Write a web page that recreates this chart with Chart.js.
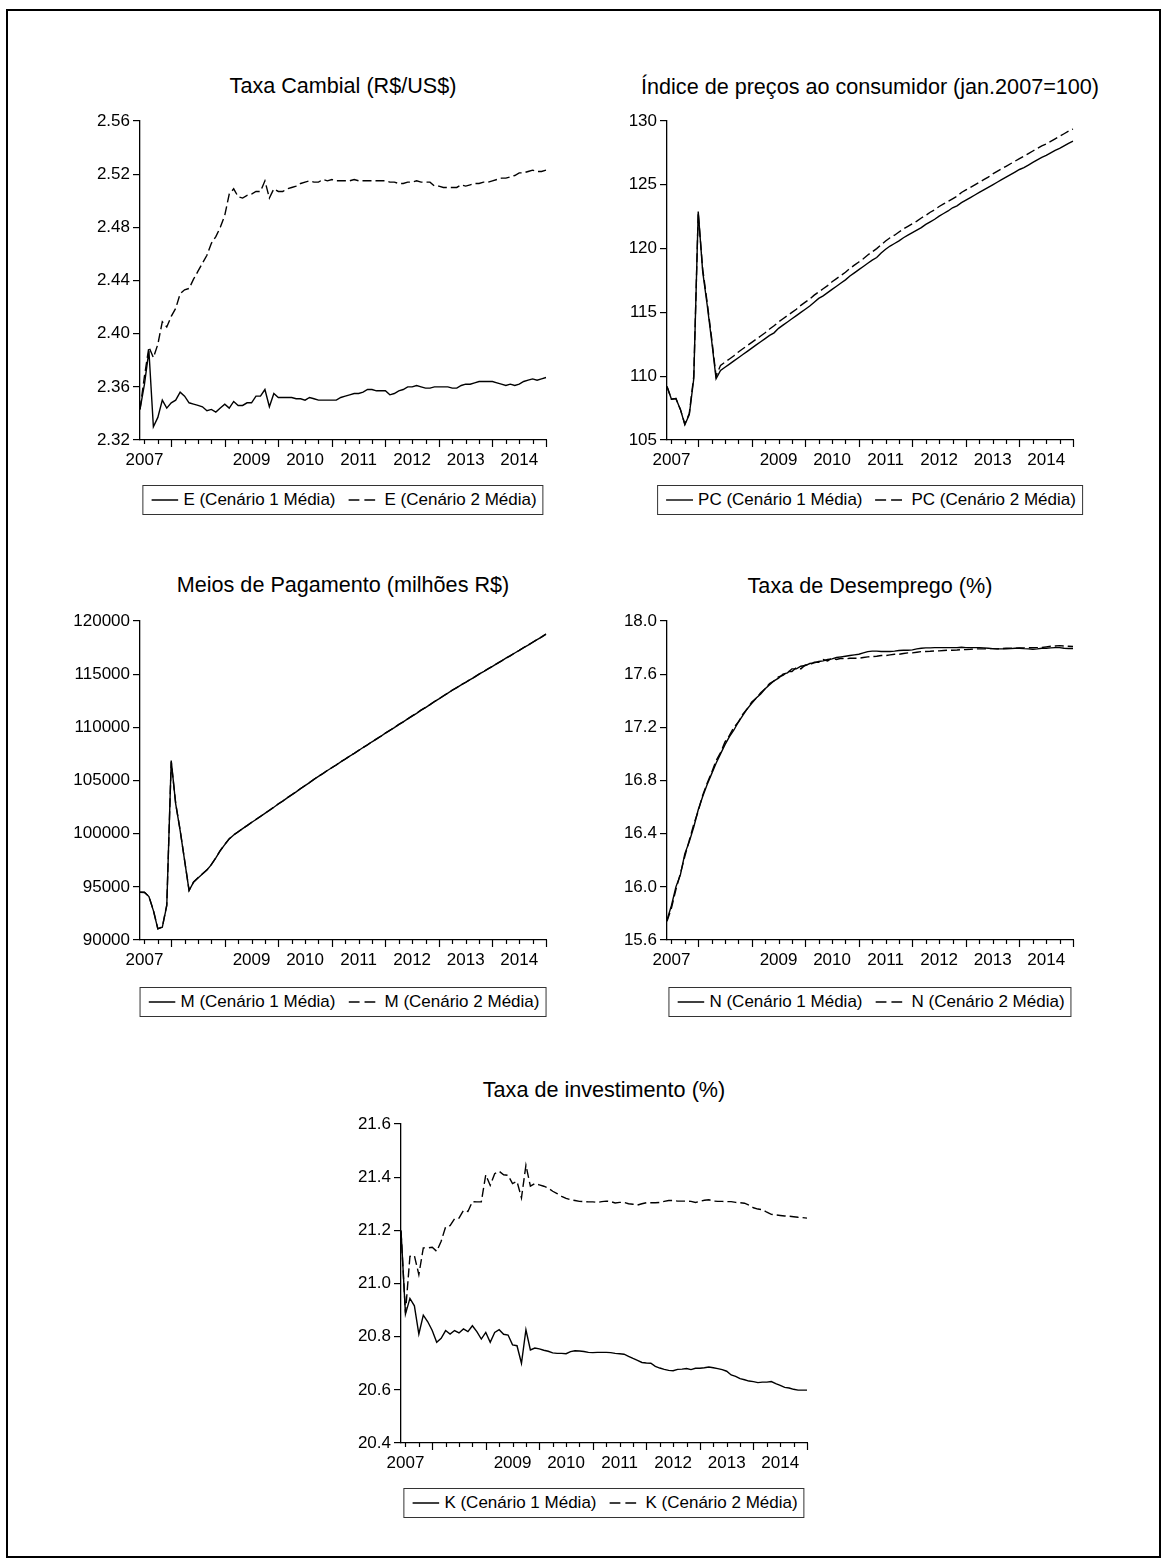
<!DOCTYPE html>
<html lang="pt">
<head>
<meta charset="utf-8">
<title>Cenários - médias</title>
<script src="https://cdn.jsdelivr.net/npm/chart.js@4.4.1/dist/chart.umd.min.js"></script>
<style>
  html, body { margin: 0; padding: 0; background: #fff; }
  #page { position: relative; width: 1170px; height: 1564px; overflow: hidden;
          font-family: "Liberation Sans", Arial, sans-serif; color: #000; }
  #frame { position: absolute; left: 6px; top: 9px; width: 1155px; height: 1549px;
           border: 2px solid #000; box-sizing: border-box; }
  .ttl { position: absolute; font-size: 21.6px; line-height: 1; white-space: nowrap;
         transform: translate(-50%, -50%); }
  canvas { position: absolute; }
  .leg { position: absolute; transform: translateX(-50%); height: 30px; box-sizing: border-box;
         border: 1px solid #333; display: flex; align-items: center; padding: 0 6px 0 8px;
         font-size: 17px; white-space: nowrap; background: #fff; }
  .leg svg { display: block; }
  .leg .it { display: flex; align-items: center; }
  .leg .it + .it { margin-left: 13px; }
</style>
</head>
<body>
<div id="page"><div id="frame"></div></div>
<script>
// eixo mensal: 2007M06 ... 2015M01 (92 observações)
const months = [];
for (let k = 0; k < 92; k++) {
  const m = 5 + k;
  months.push((2007 + Math.floor(m / 12)) + "M" + String((m % 12) + 1).padStart(2, "0"));
}

// rótulos de ano e marcas do eixo x (índices de mês)
const yearLabelIdx = [1, 25, 37, 49, 61, 73, 85];
const yearLabelText = ["2007", "2009", "2010", "2011", "2012", "2013", "2014"];
const quarterIdx = [1, 4, 7, 10, 13, 16, 19, 22, 25, 28, 31, 34, 37, 40, 43, 46, 49, 52, 55, 58, 61, 64, 67, 70, 73, 76, 79, 82, 85, 88, 91];
const janIdx = [7, 19, 31, 43, 55, 67, 79, 91];

// taxa de câmbio
const e1 = [2.343, 2.362, 2.387, 2.330, 2.337, 2.350, 2.344, 2.348, 2.350, 2.356,
  2.353, 2.348, 2.347, 2.346, 2.345, 2.342, 2.343, 2.341, 2.344, 2.347,
  2.344, 2.349, 2.346, 2.346, 2.348, 2.348, 2.353, 2.353, 2.358, 2.345,
  2.355, 2.352, 2.352, 2.352, 2.352, 2.351, 2.351, 2.350, 2.352, 2.351,
  2.350, 2.350, 2.350, 2.350, 2.350, 2.352, 2.353, 2.354, 2.355, 2.355,
  2.356, 2.358, 2.358, 2.357, 2.357, 2.357, 2.354, 2.355, 2.357, 2.358,
  2.360, 2.360, 2.361, 2.360, 2.359, 2.359, 2.360, 2.360, 2.360, 2.360,
  2.359, 2.359, 2.361, 2.362, 2.362, 2.363, 2.364, 2.364, 2.364, 2.364,
  2.363, 2.362, 2.361, 2.362, 2.361, 2.362, 2.364, 2.365, 2.366, 2.365,
  2.366, 2.367];
const e2 = [2.343, 2.368, 2.390, 2.382, 2.392, 2.409, 2.405, 2.413, 2.419, 2.430,
  2.433, 2.434, 2.441, 2.447, 2.453, 2.459, 2.468, 2.473, 2.480, 2.489,
  2.505, 2.509, 2.503, 2.502, 2.504, 2.505, 2.507, 2.507, 2.515, 2.502,
  2.509, 2.507, 2.507, 2.509, 2.510, 2.511, 2.513, 2.514, 2.515, 2.514,
  2.514, 2.516, 2.515, 2.516, 2.515, 2.515, 2.515, 2.515, 2.516, 2.515,
  2.515, 2.515, 2.515, 2.515, 2.515, 2.515, 2.514, 2.514, 2.513, 2.513,
  2.514, 2.514, 2.515, 2.514, 2.514, 2.514, 2.511, 2.511, 2.510, 2.510,
  2.510, 2.510, 2.512, 2.511, 2.512, 2.513, 2.513, 2.514, 2.514, 2.515,
  2.516, 2.517, 2.517, 2.518, 2.519, 2.521, 2.521, 2.522, 2.523, 2.522,
  2.522, 2.523];

// índice de preços
const pc1 = [109.2, 108.2, 108.25, 107.4, 106.2, 107.0, 109.8, 122.9, 118.2, 115.6,
  112.8, 109.8, 110.45, 110.7, 110.95, 111.2, 111.45, 111.7, 111.95, 112.2,
  112.45, 112.7, 112.95, 113.2, 113.4, 113.75, 114.0, 114.25, 114.5, 114.75,
  115.0, 115.25, 115.5, 115.8, 116.1, 116.3, 116.55, 116.8, 117.05, 117.3,
  117.55, 117.85, 118.1, 118.35, 118.6, 118.85, 119.1, 119.3, 119.65, 119.95,
  120.2, 120.4, 120.6, 120.85, 121.05, 121.25, 121.45, 121.65, 121.9, 122.1,
  122.3, 122.55, 122.75, 122.95, 123.2, 123.35, 123.6, 123.8, 124.0, 124.2,
  124.4, 124.6, 124.8, 125.0, 125.2, 125.4, 125.6, 125.8, 126.0, 126.2,
  126.35, 126.55, 126.75, 126.95, 127.15, 127.3, 127.5, 127.7, 127.85, 128.05,
  128.25, 128.43];
const pc2 = [109.2, 108.2, 108.25, 107.4, 106.25, 107.1, 110.0, 122.8, 118.4, 115.8,
  113.0, 110.0, 110.85, 111.1, 111.35, 111.6, 111.9, 112.15, 112.4, 112.65,
  112.9, 113.15, 113.4, 113.7, 113.95, 114.25, 114.5, 114.75, 115.0, 115.25,
  115.55, 115.8, 116.05, 116.35, 116.6, 116.85, 117.1, 117.4, 117.65, 117.9,
  118.15, 118.45, 118.7, 118.95, 119.2, 119.5, 119.75, 120.0, 120.3, 120.6,
  120.85, 121.05, 121.3, 121.55, 121.75, 121.95, 122.15, 122.4, 122.6, 122.85,
  123.05, 123.3, 123.5, 123.7, 123.9, 124.1, 124.4, 124.6, 124.8, 125.0,
  125.2, 125.4, 125.6, 125.85, 126.05, 126.25, 126.45, 126.65, 126.85, 127.05,
  127.25, 127.45, 127.65, 127.85, 128.05, 128.2, 128.4, 128.6, 128.8, 129.0,
  129.2, 129.37];

// meios de pagamento
const m1 = [94490, 94490, 94080, 92760, 91040, 91190, 93230, 106880, 102800, 100290,
  97470, 94640, 95430, 95840, 96210, 96590, 97090, 97720, 98410, 98970,
  99510, 99880, 100170, 100470, 100750, 101050, 101330, 101610, 101910, 102190,
  102480, 102790, 103060, 103370, 103650, 103930, 104240, 104520, 104800, 105110,
  105390, 105650, 105940, 106200, 106460, 106750, 107010, 107290, 107540, 107820,
  108100, 108350, 108640, 108900, 109160, 109450, 109710, 109970, 110260, 110510,
  110790, 111060, 111320, 111610, 111860, 112130, 112420, 112670, 112950, 113210,
  113490, 113730, 114000, 114230, 114490, 114730, 115000, 115230, 115490, 115730,
  115990, 116230, 116500, 116730, 116990, 117230, 117500, 117730, 117990, 118240,
  118490, 118760];
const m2 = [94490, 94470, 94100, 92800, 91060, 91230, 93300, 106750, 102850, 100330,
  97500, 94680, 95450, 95860, 96230, 96600, 97110, 97730, 98420, 98990,
  99520, 99890, 100180, 100480, 100760, 101060, 101340, 101620, 101920, 102200,
  102490, 102800, 103070, 103380, 103660, 103940, 104250, 104530, 104810, 105120,
  105400, 105660, 105950, 106210, 106470, 106760, 107020, 107300, 107550, 107830,
  108110, 108360, 108650, 108910, 109170, 109460, 109720, 109980, 110270, 110520,
  110800, 111070, 111330, 111620, 111870, 112140, 112430, 112680, 112960, 113220,
  113500, 113740, 114010, 114240, 114500, 114740, 115010, 115240, 115500, 115740,
  116000, 116240, 116510, 116740, 117000, 117240, 117510, 117740, 118000, 118250,
  118500, 118770];

// taxa de desemprego
const n1 = [15.75, 15.86, 16.00, 16.09, 16.25, 16.34, 16.45, 16.58, 16.68, 16.77,
  16.85, 16.93, 17.00, 17.07, 17.13, 17.18, 17.24, 17.29, 17.34, 17.38,
  17.42, 17.45, 17.49, 17.52, 17.55, 17.57, 17.60, 17.61, 17.64, 17.64,
  17.66, 17.665, 17.68, 17.685, 17.695, 17.70, 17.71, 17.715, 17.725, 17.73,
  17.735, 17.74, 17.745, 17.75, 17.76, 17.77, 17.773, 17.773, 17.77, 17.77,
  17.77, 17.773, 17.778, 17.78, 17.78, 17.783, 17.79, 17.795, 17.798, 17.798,
  17.80, 17.80, 17.80, 17.80, 17.80, 17.80, 17.802, 17.80, 17.80, 17.80,
  17.80, 17.798, 17.795, 17.792, 17.79, 17.79, 17.79, 17.792, 17.795, 17.795,
  17.792, 17.79, 17.788, 17.79, 17.795, 17.795, 17.798, 17.80, 17.80, 17.795,
  17.793, 17.793];
const n2 = [15.74, 15.84, 15.98, 16.10, 16.23, 16.35, 16.47, 16.57, 16.69, 16.78,
  16.86, 16.95, 17.01, 17.09, 17.14, 17.20, 17.24, 17.30, 17.34, 17.39,
  17.42, 17.46, 17.49, 17.53, 17.55, 17.58, 17.59, 17.62, 17.62, 17.65,
  17.64, 17.67, 17.67, 17.69, 17.69, 17.71, 17.70, 17.72, 17.71, 17.72,
  17.715, 17.72, 17.72, 17.72, 17.725, 17.73, 17.732, 17.735, 17.74, 17.74,
  17.745, 17.75, 17.75, 17.755, 17.76, 17.76, 17.765, 17.77, 17.77, 17.772,
  17.775, 17.775, 17.778, 17.78, 17.78, 17.782, 17.785, 17.785, 17.787, 17.79,
  17.79, 17.79, 17.792, 17.792, 17.79, 17.792, 17.795, 17.795, 17.795, 17.797,
  17.798, 17.798, 17.80, 17.80, 17.80, 17.805, 17.81, 17.812, 17.815, 17.812,
  17.81, 17.808];

// taxa de investimento
const k1 = [21.20, 20.885, 20.944, 20.916, 20.81, 20.881, 20.856, 20.823, 20.779, 20.794,
  20.823, 20.81, 20.823, 20.814, 20.829, 20.819, 20.841, 20.819, 20.791, 20.816,
  20.779, 20.816, 20.826, 20.809, 20.806, 20.769, 20.766, 20.70, 20.826, 20.75,
  20.757, 20.754, 20.749, 20.745, 20.739, 20.737, 20.737, 20.736, 20.744, 20.747,
  20.746, 20.744, 20.741, 20.74, 20.741, 20.741, 20.741, 20.74, 20.737, 20.736,
  20.734, 20.726, 20.718, 20.711, 20.703, 20.701, 20.70, 20.688, 20.682, 20.677,
  20.673, 20.672, 20.677, 20.678, 20.68, 20.676, 20.681, 20.681, 20.683, 20.686,
  20.683, 20.68, 20.676, 20.67, 20.656, 20.651, 20.642, 20.638, 20.633, 20.631,
  20.627, 20.629, 20.629, 20.631, 20.623, 20.617, 20.609, 20.607, 20.602, 20.599,
  20.599, 20.599];
const k2 = [21.196, 20.89, 21.102, 21.105, 21.033, 21.134, 21.134, 21.136, 21.121, 21.159,
  21.213, 21.218, 21.243, 21.246, 21.275, 21.271, 21.308, 21.307, 21.307, 21.409,
  21.369, 21.413, 21.422, 21.409, 21.407, 21.376, 21.384, 21.322, 21.445, 21.366,
  21.376, 21.371, 21.366, 21.359, 21.347, 21.338, 21.328, 21.32, 21.315, 21.312,
  21.309, 21.308, 21.307, 21.307, 21.305, 21.308, 21.31, 21.308, 21.303, 21.305,
  21.305, 21.30, 21.298, 21.295, 21.30, 21.304, 21.304, 21.304, 21.305, 21.309,
  21.312, 21.312, 21.31, 21.31, 21.31, 21.309, 21.305, 21.309, 21.313, 21.315,
  21.31, 21.309, 21.309, 21.308, 21.308, 21.305, 21.304, 21.302, 21.295, 21.285,
  21.28, 21.278, 21.268, 21.26, 21.258, 21.256, 21.254, 21.253, 21.251, 21.249,
  21.248, 21.246];

// marcas do eixo y
const ticksE = [2.32, 2.36, 2.40, 2.44, 2.48, 2.52, 2.56];
const ticksPC = [105, 110, 115, 120, 125, 130];
const ticksM = [90000, 95000, 100000, 105000, 110000, 115000, 120000];
const ticksN = [15.6, 16.0, 16.4, 16.8, 17.2, 17.6, 18.0];
const ticksK = [20.4, 20.6, 20.8, 21.0, 21.2, 21.4, 21.6];

const panels = [
  { title: "Taxa Cambial (R$/US$)", name: "E", s1: e1, s2: e2, ticks: ticksE, dec: 2,
    left: 140, top: 121, titleY: 86, legTop: 485 },
  { title: "Índice de preços ao consumidor (jan.2007=100)", name: "PC", s1: pc1, s2: pc2, ticks: ticksPC, dec: 0,
    left: 667, top: 121, titleY: 87, legTop: 485 },
  { title: "Meios de Pagamento (milhões R$)", name: "M", s1: m1, s2: m2, ticks: ticksM, dec: 0,
    left: 140, top: 621, titleY: 585, legTop: 987 },
  { title: "Taxa de Desemprego (%)", name: "N", s1: n1, s2: n2, ticks: ticksN, dec: 1,
    left: 667, top: 621, titleY: 586, legTop: 987 },
  { title: "Taxa de investimento (%)", name: "K", s1: k1, s2: k2, ticks: ticksK, dec: 1,
    left: 401, top: 1124, titleY: 1090, legTop: 1488 }
];
const plotW = 406;
const plotH = 319;

Chart.defaults.font.family = "'Liberation Sans', Arial, sans-serif";
Chart.defaults.color = "#000";

// marcas trimestrais do eixo x (as de janeiro mais longas)
const quarterTicks = {
  id: "quarterTicks",
  afterDraw(chart) {
    const x = chart.scales.x;
    const y0 = chart.chartArea.bottom;
    const ctx = chart.ctx;
    ctx.save();
    ctx.strokeStyle = "#000";
    ctx.lineWidth = 1.2;
    quarterIdx.forEach((i) => {
      const px = Math.round(x.getPixelForValue(i)) + 0.5;
      const len = janIdx.includes(i) ? 7 : 4;
      ctx.beginPath();
      ctx.moveTo(px, y0);
      ctx.lineTo(px, y0 + len);
      ctx.stroke();
    });
    ctx.restore();
  }
};

function makeConfig(p) {
  return {
    type: "line",
    data: {
      labels: months,
      datasets: [
        { label: p.name + " (Cenário 1 Média)", data: p.s1, borderColor: "#000", borderWidth: 1.4,
          pointRadius: 0, fill: false, tension: 0 },
        { label: p.name + " (Cenário 2 Média)", data: p.s2, borderColor: "#000", borderWidth: 1.4,
          borderDash: [9, 4], pointRadius: 0, fill: false, tension: 0 }
      ]
    },
    options: {
      responsive: false,
      animation: false,
      devicePixelRatio: 1,
      layout: { padding: { left: 0, top: 14, right: 20, bottom: 6 } },
      plugins: { legend: { display: false }, tooltip: { enabled: false }, title: { display: false } },
      scales: {
        x: {
          type: "category",
          offset: false,
          grid: { display: false, drawTicks: false },
          border: { display: true, color: "#000", width: 1.3 },
          afterBuildTicks: (s) => { s.ticks = yearLabelIdx.map((v) => ({ value: v })); },
          ticks: { autoSkip: false, maxRotation: 0, minRotation: 0, padding: 10,
                   font: { size: 17 }, callback: (v, i) => yearLabelText[i] },
          afterFit: (s) => { s.height = 34; }
        },
        y: {
          min: p.ticks[0],
          max: p.ticks[p.ticks.length - 1],
          grid: { drawOnChartArea: false, drawTicks: true, tickLength: 7, tickColor: "#000",
                  tickWidth: 1.2, color: "#000", lineWidth: 1.2 },
          border: { display: true, color: "#000", width: 1.3 },
          afterBuildTicks: (s) => { s.ticks = p.ticks.map((v) => ({ value: v })); },
          ticks: { padding: 3, font: { size: 17 }, callback: (v) => Number(v).toFixed(p.dec) },
          afterFit: (s) => { s.width = 130; }
        }
      }
    },
    plugins: [quarterTicks]
  };
}

function dashSvg(dashed) {
  return '<svg width="27" height="6"><line x1="0" y1="3" x2="27" y2="3" stroke="#000" stroke-width="1.4"' +
    (dashed ? ' stroke-dasharray="11 5"' : "") + "/></svg>";
}

const page = document.getElementById("page");

panels.forEach((p) => {
  const cx = p.left + plotW / 2;

  const t = document.createElement("div");
  t.className = "ttl";
  t.textContent = p.title;
  t.style.left = cx + "px";
  t.style.top = p.titleY + "px";
  page.appendChild(t);

  const cv = document.createElement("canvas");
  cv.width = 560;
  cv.height = 380;
  page.appendChild(cv);

  // primeira passagem para medir a área do gráfico, depois ajusta o tamanho
  let chart = new Chart(cv, makeConfig(p));
  let ca = chart.chartArea;
  const w = 560 + plotW - (ca.right - ca.left);
  const h = 380 + plotH - (ca.bottom - ca.top);
  chart.destroy();
  cv.width = w;
  cv.height = h;
  cv.style.width = w + "px";
  cv.style.height = h + "px";
  chart = new Chart(cv, makeConfig(p));
  ca = chart.chartArea;
  cv.style.left = (p.left - ca.left) + "px";
  cv.style.top = (p.top - ca.top) + "px";

  const leg = document.createElement("div");
  leg.className = "leg";
  leg.style.left = cx + "px";
  leg.style.top = p.legTop + "px";
  leg.innerHTML =
    '<div class="it">' + dashSvg(false) + '<span style="margin-left:5px">' + p.name + " (Cenário 1 Média)</span></div>" +
    '<div class="it">' + dashSvg(true) + '<span style="margin-left:9px">' + p.name + " (Cenário 2 Média)</span></div>";
  page.appendChild(leg);
});
</script>
</body>
</html>
